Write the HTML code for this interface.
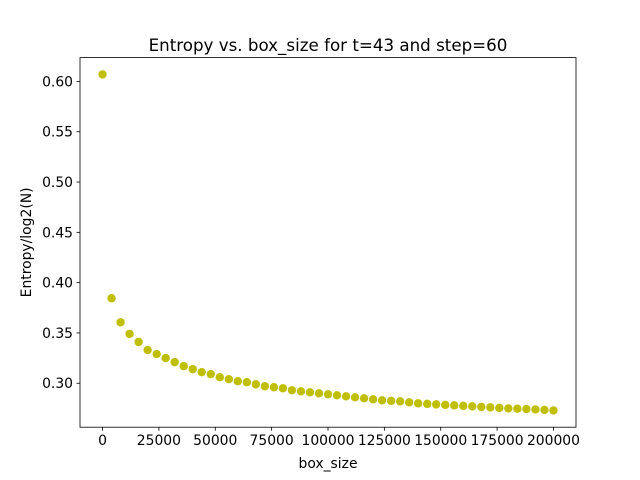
<!DOCTYPE html>
<html><head><meta charset="utf-8"><style>body{margin:0;background:#fff}svg{display:block;font-family:"DejaVu Sans","Liberation Sans",sans-serif}</style></head>
<body>
<svg id="chart" width="640" height="480" xmlns="http://www.w3.org/2000/svg"></svg>
<script>
const boxSizes = [];
for (let i = 0; i <= 50; i++) boxSizes.push(i * 4000);
const entropyValues = [0.607,0.3845,0.3606,0.349,0.341,0.333,0.329,0.325,0.321,0.317,0.314,0.311,0.309,0.306,0.304,0.302,0.301,0.299,0.297,0.296,0.295,0.293,0.292,0.291,0.290,0.289,0.288,0.287,0.286,0.285,0.284,0.283,0.2825,0.282,0.281,0.280,0.2795,0.279,0.2785,0.278,0.2775,0.277,0.2765,0.276,0.2755,0.275,0.2747,0.2743,0.274,0.2735,0.273];
const xTicks = [0,25000,50000,75000,100000,125000,150000,175000,200000];
const yTicks = [0.30,0.35,0.40,0.45,0.50,0.55,0.60];

const NS = "http://www.w3.org/2000/svg";
const svg = document.getElementById('chart');
const L=80,R=576,T=57.6,B=427.2;
const xmin=-10000,xmax=210000,ymin=0.2563,ymax=0.6237;
const sx=v=>L+(v-xmin)/(xmax-xmin)*(R-L);
const sy=v=>B-(v-ymin)/(ymax-ymin)*(B-T);
function mk(tag,attrs,parent){const e=document.createElementNS(NS,tag);for(const k in attrs)e.setAttribute(k,attrs[k]);(parent||svg).appendChild(e);return e;}

const pts=mk('g',{});


boxSizes.forEach((x,i)=>{
  const c=mk('circle',{cx:sx(x),cy:sy(entropyValues[i]),r:4.2,fill:'#bfbf00'},pts);
  
  
});

const frame=mk('rect',{x:L,y:T,width:R-L,height:B-T,fill:'none',stroke:'#000','stroke-width':0.8});



xTicks.forEach(t=>{
  const x=sx(t);
  mk('line',{x1:x,x2:x,y1:B,y2:B+3.5,stroke:'#000','stroke-width':0.8});
  const tx=mk('text',{x:x,y:B+18,'text-anchor':'middle','font-size':13.9});
  tx.textContent=String(t);
  
  
});
yTicks.forEach(t=>{
  const y=sy(t);
  mk('line',{x1:L-3.5,x2:L,y1:y,y2:y,stroke:'#000','stroke-width':0.8});
  const tx=mk('text',{x:L-7,y:y+5,'text-anchor':'end','font-size':13.9});
  tx.textContent=t.toFixed(2);
  
  
});

const title=mk('text',{x:(L+R)/2,y:51,'text-anchor':'middle','font-size':16.7});
title.textContent='Entropy vs. box_size for t=43 and step=60';



const xl=mk('text',{x:(L+R)/2,y:468,'text-anchor':'middle','font-size':13.9});
xl.textContent='box_size';



const yl=mk('text',{x:31,y:(T+B)/2,'text-anchor':'middle','font-size':13.9,transform:`rotate(-90 31 ${(T+B)/2})`});
yl.textContent='Entropy/log2(N)';


</script>
</body></html>
